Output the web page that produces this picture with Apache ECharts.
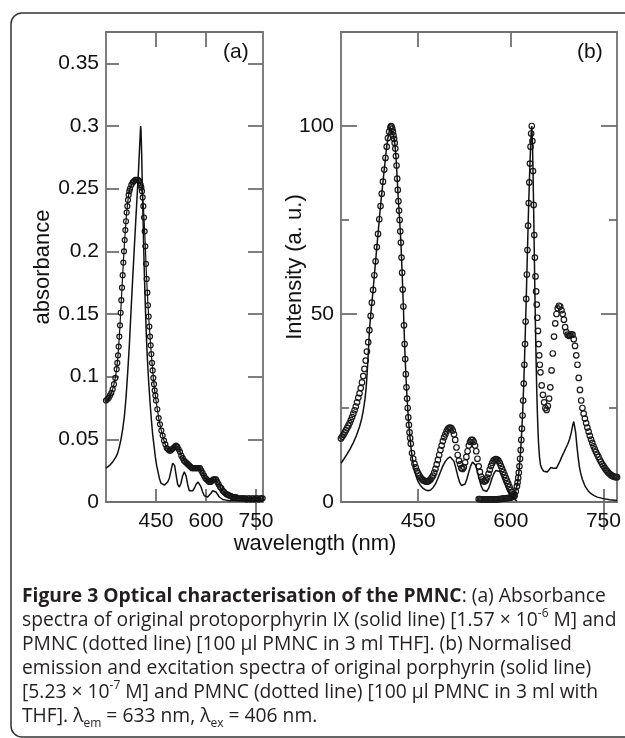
<!DOCTYPE html>
<html><head><meta charset="utf-8">
<script src="https://cdn.jsdelivr.net/npm/echarts@6.0.0/dist/echarts.min.js"></script>
<style>html,body{margin:0;padding:0;background:#fff}#c{width:625px;height:738px}</style>
</head><body><div id="c"></div>
<script>
// ---- tick labels ----
const wavelengthTicks = [450, 600, 750];
const absorbanceTicks = [0, 0.05, 0.1, 0.15, 0.2, 0.25, 0.3, 0.35];
const intensityTicks = [0, 50, 100];
const intensityMinorTicks = [25, 75];

// ---- (a) absorbance: protoporphyrin IX, solid line [wavelength nm, absorbance] ----
const absSolid = [[300,0.027],[310,0.029],[320,0.032],[330,0.036],[335,0.039],[340,0.044],[345,0.050],[350,0.058],[355,0.068],[360,0.083],[365,0.103],[370,0.125],[375,0.152],[380,0.178],[385,0.203],[390,0.228],[395,0.252],[398,0.267],[401,0.284],[403,0.295],[404,0.300],[405,0.297],[407,0.278],[409,0.252],[411,0.228],[413,0.204],[415,0.183],[418,0.156],[421,0.133],[424,0.115],[428,0.096],[432,0.080],[436,0.066],[440,0.054],[444,0.045],[448,0.036],[452,0.029],[456,0.024],[460,0.019],[465,0.015],[470,0.0135],[475,0.0135],[480,0.014],[485,0.016],[490,0.019],[495,0.025],[500,0.031],[503,0.032],[506,0.029],[510,0.022],[515,0.014],[520,0.012],[525,0.015],[530,0.021],[535,0.024],[540,0.021],[545,0.014],[550,0.009],[555,0.008],[560,0.009],[565,0.011],[570,0.014],[576,0.016],[580,0.015],[585,0.012],[590,0.008],[595,0.005],[600,0.004],[605,0.004],[610,0.005],[615,0.007],[620,0.009],[626,0.0095],[630,0.008],[635,0.006],[640,0.004],[645,0.003],[650,0.002],[660,0.0015],[670,0.001],[680,0.001],[700,0.001],[720,0.0005],[740,0.0005],[760,0.0005],[771,0.0005]];

// ---- (a) absorbance: PMNC, dotted line ----
const absDotted = [[300,0.081],[304,0.082],[308,0.083],[312,0.085],[316,0.087],[320,0.090],[324,0.094],[328,0.099],[332,0.106],[334,0.111],[336,0.117],[338,0.124],[340,0.132],[342,0.141],[344,0.151],[346,0.161],[348,0.171],[350,0.181],[352,0.191],[354,0.200],[356,0.209],[358,0.217],[360,0.224],[362,0.231],[364,0.236],[366,0.241],[368,0.245],[370,0.248],[372,0.250],[376,0.253],[380,0.255],[384,0.256],[388,0.257],[392,0.257],[396,0.257],[400,0.256],[404,0.253],[406,0.251],[408,0.248],[410,0.243],[412,0.236],[414,0.227],[416,0.216],[418,0.204],[420,0.190],[422,0.178],[424,0.167],[426,0.157],[428,0.148],[430,0.140],[432,0.132],[434,0.125],[436,0.118],[438,0.111],[440,0.105],[442,0.099],[444,0.094],[446,0.089],[448,0.085],[450,0.081],[454,0.074],[458,0.067],[462,0.062],[466,0.057],[470,0.053],[474,0.049],[478,0.046],[482,0.043],[486,0.042],[490,0.041],[494,0.041],[498,0.042],[502,0.043],[506,0.044],[510,0.045],[514,0.044],[518,0.042],[522,0.040],[526,0.037],[530,0.035],[534,0.033],[538,0.032],[542,0.031],[546,0.030],[550,0.029],[554,0.028],[558,0.027],[562,0.027],[566,0.027],[570,0.027],[574,0.027],[578,0.027],[582,0.027],[586,0.025],[590,0.023],[594,0.021],[598,0.019],[602,0.018],[606,0.017],[610,0.016],[614,0.016],[618,0.017],[622,0.018],[626,0.018],[630,0.018],[634,0.016],[638,0.014],[642,0.012],[646,0.011],[650,0.009],[654,0.008],[658,0.007],[662,0.006],[666,0.006],[670,0.005],[674,0.005],[678,0.004],[682,0.004],[686,0.004],[690,0.004],[694,0.003],[698,0.003],[702,0.003],[706,0.003],[710,0.003],[714,0.003],[718,0.003],[722,0.002],[726,0.003],[730,0.003],[734,0.002],[738,0.003],[742,0.003],[746,0.002],[750,0.003],[754,0.003],[758,0.002],[762,0.003],[766,0.003],[770,0.003]];

// ---- (b) excitation spectra ----
const excSolid = [[325,10.3],[330,11.5],[335,12.8],[340,14.2],[345,15.8],[350,17.7],[355,20],[358,21.8],[361,24.2],[364,27.5],[366,31],[368,36],[370,42],[371,45.7],[373,49.5],[375,53],[377,56.4],[379,60.3],[381,64],[383,67.8],[385,71.3],[387,75.2],[389,78.7],[391,82],[393,85.2],[395,88.4],[397,91.5],[399,94.5],[401,96.8],[403,98.5],[405,99.6],[406,100],[408,99.3],[410,97.5],[412,95.5],[414,92],[416,86],[418,80],[420,75],[422,69],[424,61],[426,52],[428,42],[430,34],[432,27.5],[434,22.5],[436,18.5],[438,15],[440,12.3],[442,10.2],[444,8.5],[446,7.2],[448,6.2],[450,5.4],[454,4.3],[458,3.6],[462,3.2],[466,3],[470,3.2],[474,3.8],[478,4.8],[482,6.3],[486,8],[490,9.6],[494,10.8],[498,11.6],[502,12],[505,11.8],[508,10.8],[511,9],[514,7],[517,5.3],[520,4.4],[523,4.2],[526,4.8],[529,6.2],[532,8],[535,9.6],[538,10.6],[540,10.7],[543,9.8],[546,8],[549,6],[552,4.3],[555,3.2],[558,2.8],[561,2.8],[564,3.6],[567,5],[570,6.5],[573,7.7],[576,8.4],[579,8.6],[582,8.1],[585,7],[588,5.7],[591,4.5],[594,3.3],[597,2.3],[600,1.6],[603,1],[606,0.6],[610,0.3]];
const excDotted = [[325,16.9],[327,17.4],[329,17.9],[331,18.5],[333,19.1],[335,19.7],[337,20.3],[339,21],[341,21.8],[343,22.6],[345,23.5],[347,24.4],[349,25.4],[351,26.5],[353,27.7],[355,28.9],[357,30.3],[359,31.8],[361,33.5],[363,35.4],[365,37.6],[367,40],[369,42.5],[371,45.7],[373,49.5],[375,53],[377,56.4],[379,60.3],[381,64],[383,67.8],[385,71.3],[387,75.2],[389,78.7],[391,82],[393,85.2],[395,88.4],[397,91.5],[399,94.5],[401,96.8],[403,98.5],[405,99.6],[406,100],[407,99.8],[408,99.3],[409,98.5],[410,97.5],[411,96.6],[412,95.5],[413,94],[414,92],[415,89.5],[416,86],[417,83],[418,80],[419,77.5],[420,75],[421,72],[422,69],[423,65],[424,61],[425,56.5],[426,52],[427,47],[428,42],[429,38],[430,34],[431,30.5],[432,27.5],[433,25],[434,22.5],[435,20.5],[436,18.5],[437,17],[438,15.5],[440,13],[442,11.5],[444,10.2],[446,9.2],[448,8.3],[450,7.6],[452,7],[454,6.5],[456,6.1],[458,5.8],[460,5.6],[462,5.5],[464,5.4],[466,5.5],[468,5.7],[470,6],[472,6.5],[474,7],[476,7.8],[478,8.8],[480,10],[482,11.2],[484,12.5],[486,13.8],[488,15],[490,16.2],[492,17.2],[494,18],[496,18.8],[498,19.4],[500,19.7],[502,19.8],[504,19.6],[506,19],[508,18],[510,16.5],[512,14.5],[514,12.5],[516,11],[518,10],[520,9],[522,8.8],[524,9.3],[526,10.5],[528,12],[530,13.5],[532,15],[534,16],[536,16.5],[538,16.5],[540,16],[542,15],[544,13.5],[546,11.5],[548,9.5],[550,8],[552,6.7],[554,6],[556,5.5],[558,5.5],[560,5.8],[562,6.5],[564,7.5],[566,8.6],[568,9.6],[570,10.4],[572,11],[574,11.3],[576,11.4],[578,11.3],[580,11],[582,10.4],[584,9.6],[586,8.8],[588,8],[590,7.2],[592,6.4],[594,5.6],[596,4.8],[598,4],[600,3.2],[602,2.6],[604,2],[606,1.6]];

// ---- (b) emission spectra ----
const emiSolid = [[600,0.3],[604,1.2],[608,2.8],[611,5.2],[613,7.8],[615,11.5],[617,16.5],[619,23],[621,31.5],[623,42],[625,54],[627,67],[629,79.5],[631,90],[633,98],[634,100],[635,96],[636,88],[637,78],[638,67],[639,56],[640,46],[641,37.5],[642,30],[643,24],[644,19],[645,15.5],[646.5,12],[648,10],[650,9],[653,8.2],[656,7.8],[659,8],[662,8.6],[665,9.2],[667,9.3],[669,9],[671,8.7],[674,9],[677,10],[680,11],[683,12.2],[686,13.2],[689,14.3],[692,15.3],[695,16.6],[698,18.5],[700,20.2],[702,21.4],[703.5,21],[705,18.5],[707,15],[709,12],[711,9.5],[713,7.8],[716,6],[720,4.3],[725,3],[730,2.2],[735,1.7],[740,1.3],[750,0.9],[760,0.6],[772,0.4]];
const emiDotted = [[548,0.8],[550,0.8],[552,0.7],[554,0.7],[556,0.7],[558,0.7],[560,0.7],[562,0.7],[564,0.7],[566,0.7],[568,0.7],[570,0.7],[572,0.7],[574,0.7],[576,0.7],[578,0.7],[580,0.8],[582,0.8],[584,0.8],[586,0.9],[588,0.9],[590,1],[592,1],[594,1],[596,1.1],[598,1.1],[600,1.2],[602,1.3],[604,1.5],[606,1.9],[608,2.8],[610,4.2],[611,5.2],[612,6.4],[613,7.8],[614,9.5],[615,11.5],[616,13.8],[617,16.5],[618,19.5],[619,23],[620,27],[621,31.5],[622,36.5],[623,42],[624,48],[625,54],[626,60.5],[627,67],[628,73.5],[629,79.5],[630,85],[631,90],[632,94.5],[633,98],[634,100],[635,96],[636,88],[637,79],[638,71],[639,65],[640,60],[641,56],[642,52.5],[643,49],[644,45.5],[645,42],[646,39],[647,36.5],[648,34.5],[650,31],[652,28.5],[654,26.5],[656,25],[658,24.5],[660,25.5],[662,27.5],[664,30.5],[666,35],[668,39.5],[670,44],[672,47.5],[674,50],[676,51.5],[678,52.2],[680,52],[682,51],[684,50],[686,48.5],[688,46.5],[690,45.2],[692,44.5],[694,44.2],[696,44.3],[698,44.6],[700,44.5],[702,43.3],[704,41.5],[706,39],[708,36.5],[710,33],[712,29.8],[714,27],[716,25],[718,23.5],[720,22.2],[722,21],[724,19.8],[726,18.7],[728,17.6],[730,16.6],[732,15.7],[734,14.8],[736,14],[738,13.3],[740,12.6],[742,12],[744,11.3],[746,10.7],[748,10.1],[750,9.6],[752,9.1],[754,8.6],[756,8.2],[758,7.8],[760,7.5],[762,7.2],[764,7],[766,6.8],[768,6.7],[770,6.6],[772,6.6]];

const chart = echarts.init(document.getElementById('c'), null, {renderer: 'canvas'});
const axisColor = '#707070';
const axLine = {show: true, onZero: false, lineStyle: {color: axisColor, width: 1.8}};
const noLine = {show: false};
const tickLS = {color: axisColor, width: 1.8};
const lbl = {color: '#111', fontFamily: 'Liberation Sans', fontSize: 21};
const nameStyle = {color: '#111', fontFamily: 'Liberation Sans', fontSize: 22};

function xAx(grid, min, max, pos, ticks, len, line, labels) {
  return {
    type: 'value', gridIndex: grid, min: min, max: max, position: pos, offset: 0,
    axisLine: line ? axLine : noLine,
    axisTick: {show: true, inside: true, length: len, customValues: ticks, lineStyle: tickLS},
    axisLabel: labels ? Object.assign({show: true, customValues: labels, margin: 9}, lbl) : {show: false},
    splitLine: {show: false}
  };
}
function yAx(grid, min, max, pos, ticks, len, line, labels, extra) {
  return Object.assign({
    type: 'value', gridIndex: grid, min: min, max: max, position: pos, offset: 0,
    axisLine: line ? axLine : noLine,
    axisTick: {show: true, inside: true, length: len, customValues: ticks, lineStyle: tickLS},
    axisLabel: labels ? Object.assign({show: true, customValues: labels, margin: 7, formatter: v => String(v)}, lbl) : {show: false},
    splitLine: {show: false}
  }, extra || {});
}

const dotStyleA = {color: 'rgba(0,0,0,0)', borderColor: '#151515', borderWidth: 1.2};
const dotStyleB = {color: 'rgba(0,0,0,0)', borderColor: '#1a1a1a', borderWidth: 1.2};

function txt(x, y, rich) {
  return {type: 'text', silent: true, style: {
    x: x, y: y, text: rich, align: 'left', textAlign: 'left', verticalAlign: 'middle', textVerticalAlign: 'middle',
    fill: '#231f20',
    rich: {
      r: {fontFamily: 'Open Sans', fontSize: 19.3, fill: '#231f20', lineHeight: 26},
      b: {fontFamily: 'Open Sans', fontSize: 19.3, fontWeight: 'bold', fill: '#231f20', lineHeight: 26},
      sup: {fontFamily: 'Open Sans', fontSize: 12, fill: '#231f20', verticalAlign: 'top'},
      sub: {fontFamily: 'Open Sans', fontSize: 12, fill: '#231f20', verticalAlign: 'bottom'}
    }
  }};
}

chart.setOption({
  animation: false,
  backgroundColor: '#fff',
  grid: [
    {left: 106, top: 32, width: 157, height: 470},
    {left: 341, top: 32, width: 276, height: 470}
  ],
  xAxis: [
    xAx(0, 300, 771, 'bottom', wavelengthTicks, 13, true, wavelengthTicks),
    xAx(0, 300, 771, 'top', [450, 600], 15, true, null),
    xAx(0, 300, 771, 'top', [750], 28, false, null),
    xAx(1, 325, 772, 'bottom', wavelengthTicks, 13, true, wavelengthTicks),
    xAx(1, 325, 772, 'top', [450, 600], 15, true, null),
    xAx(1, 325, 772, 'top', [750], 28, false, null)
  ],
  yAxis: [
    yAx(0, 0, 0.375, 'left', absorbanceTicks, 13, true, absorbanceTicks,
      {name: 'absorbance', nameLocation: 'middle', nameGap: 52, nameMoveOverlap: false, nameTextStyle: nameStyle}),
    yAx(0, 0, 0.375, 'right', absorbanceTicks, 15, true, null),
    yAx(1, 0, 125, 'left', intensityTicks, 16, true, intensityTicks,
      {name: 'Intensity (a. u.)', nameLocation: 'middle', nameGap: 35, nameMoveOverlap: false, nameTextStyle: nameStyle}),
    yAx(1, 0, 125, 'left', intensityMinorTicks, 8, false, null),
    yAx(1, 0, 125, 'right', intensityTicks, 16, true, null),
    yAx(1, 0, 125, 'right', intensityMinorTicks, 8, false, null)
  ],
  series: [
    {type: 'line', name: 'PMNC absorbance', xAxisIndex: 0, yAxisIndex: 0, data: absDotted,
      symbol: 'circle', symbolSize: 5, showSymbol: true, showAllSymbol: true, itemStyle: dotStyleA,
      lineStyle: {width: 1.2, color: '#151515'}, silent: true, z: 2},
    {type: 'line', name: 'protoporphyrin IX absorbance', xAxisIndex: 0, yAxisIndex: 0, data: absSolid,
      symbol: 'none', lineStyle: {width: 1.5, color: '#111'}, silent: true, z: 3},
    {type: 'line', name: 'PMNC excitation', xAxisIndex: 3, yAxisIndex: 2, data: excDotted,
      symbol: 'circle', symbolSize: 5.5, showSymbol: true, showAllSymbol: true, itemStyle: dotStyleB,
      lineStyle: {width: 0, opacity: 0}, silent: true, z: 2},
    {type: 'line', name: 'PMNC emission', xAxisIndex: 3, yAxisIndex: 2, data: emiDotted,
      symbol: 'circle', symbolSize: 5.5, showSymbol: true, showAllSymbol: true, itemStyle: dotStyleB,
      lineStyle: {width: 0, opacity: 0}, silent: true, z: 2},
    {type: 'line', name: 'porphyrin excitation', xAxisIndex: 3, yAxisIndex: 2, data: excSolid,
      symbol: 'none', lineStyle: {width: 1.5, color: '#111'}, silent: true, z: 3},
    {type: 'line', name: 'porphyrin emission', xAxisIndex: 3, yAxisIndex: 2, data: emiSolid,
      symbol: 'none', lineStyle: {width: 1.5, color: '#111'}, silent: true, z: 3}
  ],
  graphic: [
    {type: 'rect', silent: true, shape: {x: 11, y: 13, width: 700, height: 724, r: 11},
      style: {fill: 'none', stroke: '#333', lineWidth: 1.5}},
    {type: 'text', silent: true, style: {x: 223, y: 52, text: '(a)', fill: '#111', font: '21px "Liberation Sans"', verticalAlign: 'middle', textVerticalAlign: 'middle'}},
    {type: 'text', silent: true, style: {x: 577, y: 52, text: '(b)', fill: '#111', font: '21px "Liberation Sans"', verticalAlign: 'middle', textVerticalAlign: 'middle'}},
    {type: 'text', silent: true, style: {x: 315, y: 544, text: 'wavelength (nm)', fill: '#111', font: '22px "Liberation Sans"', align: 'center', textAlign: 'center', verticalAlign: 'middle', textVerticalAlign: 'middle'}},
    txt(22, 597, '{b|Figure 3 Optical characterisation of the PMNC}{r|: (a) Absorbance}'),
    txt(22, 621, '{r|spectra of original protoporphyrin IX (solid line) [1.57 × 10}{sup|-6}{r| M] and}'),
    txt(22, 645, '{r|PMNC (dotted line) [100 µl PMNC in 3 ml THF]. (b) Normalised}'),
    txt(22, 669, '{r|emission and excitation spectra of original porphyrin (solid line)}'),
    txt(22, 693, '{r|[5.23 × 10}{sup|-7}{r| M] and PMNC (dotted line) [100 µl PMNC in 3 ml with}'),
    txt(22, 717, '{r|THF]. λ}{sub|em}{r| = 633 nm, λ}{sub|ex}{r| = 406 nm.}')
  ]
});
</script></body></html>
